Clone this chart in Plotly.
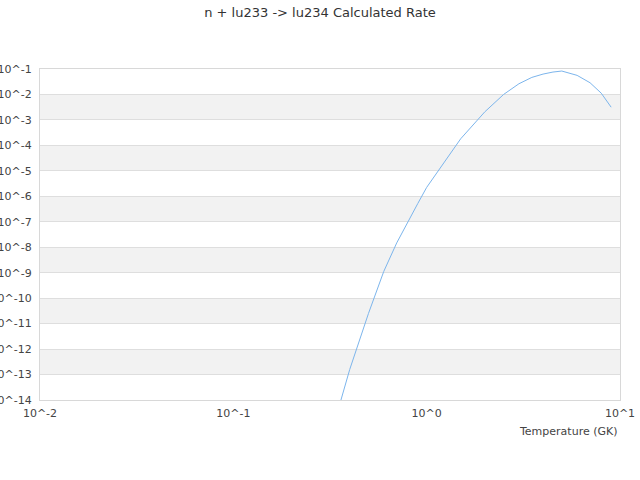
import plotly.graph_objects as go

temperature_gk = [0.3, 0.4, 0.5, 0.6, 0.7, 0.8, 0.9, 1.0, 1.5, 2.0, 2.5, 3.0, 3.5, 4.0, 4.5, 5.0, 6.0, 7.0, 8.0, 9.0]
log_rate = [-16.1, -12.8, -10.6, -8.95, -7.83, -6.98, -6.28, -5.65, -3.74, -2.68, -2.0, -1.58, -1.33, -1.2, -1.12, -1.08, -1.25, -1.54, -1.95, -2.5]
rate = [10 ** v for v in log_rate]

x_tick_exps = [-2, -1, 0, 1]
y_tick_exps = list(range(-14, 0))
title_text = "n + lu233 -> lu234 Calculated Rate"
x_title = "Temperature (GK)"

font_family = "DejaVu Sans, sans-serif"
y_lo, y_hi = -14, -1

fig = go.Figure()
fig.add_trace(go.Scatter(x=temperature_gk, y=rate, mode="lines",
                         line=dict(color="#7cb5ec", width=1), hoverinfo="x+y"))

shapes = []
for e in range(-3, -14, -2):
    shapes.append(dict(type="rect", xref="paper", yref="y domain", x0=0, x1=1,
                       y0=(e - y_lo) / (y_hi - y_lo), y1=(e + 1 - y_lo) / (y_hi - y_lo),
                       fillcolor="#f2f2f2", line=dict(width=0), layer="below"))

fig.update_layout(
    width=640, height=480,
    margin=dict(l=40, r=20, t=69, b=80),
    paper_bgcolor="white", plot_bgcolor="white",
    showlegend=False,
    font=dict(family=font_family, size=11, color="#444"),
    title=dict(text=title_text, x=0.5, xanchor="center", xref="container",
               y=1 - 12 / 480, yanchor="middle", font=dict(size=13, color="#333")),
    shapes=shapes,
    annotations=[dict(text=x_title, xref="paper", yref="paper", x=1, xanchor="right",
                      y=-31 / 331, yanchor="middle", showarrow=False,
                      font=dict(size=11, color="#444"))],
)
fig.update_xaxes(type="log", range=[-2, 1], tickvals=[10 ** e for e in x_tick_exps],
                 ticktext=[f"10^{e}" for e in x_tick_exps], showgrid=False,
                 showline=True, linecolor="#d8d8d8", mirror=True, ticks="", zeroline=False,
                 automargin=False, ticklabelstandoff=3, tickfont=dict(size=11, color="#444"))
fig.update_yaxes(type="log", range=[y_lo, y_hi], tickvals=[10 ** e for e in y_tick_exps] + [0.1],
                 ticktext=[f"10^{e}" for e in y_tick_exps] + ["10^-1"], showgrid=True,
                 gridcolor="#dedede", showline=True, linecolor="#d8d8d8", mirror=True,
                 ticks="", zeroline=False, automargin=False, ticklabelstandoff=5,
                 tickfont=dict(size=11, color="#444"))

fig.write_html("out.html", config={"displayModeBar": False},
               post_script="document.body.style.margin='0';")
